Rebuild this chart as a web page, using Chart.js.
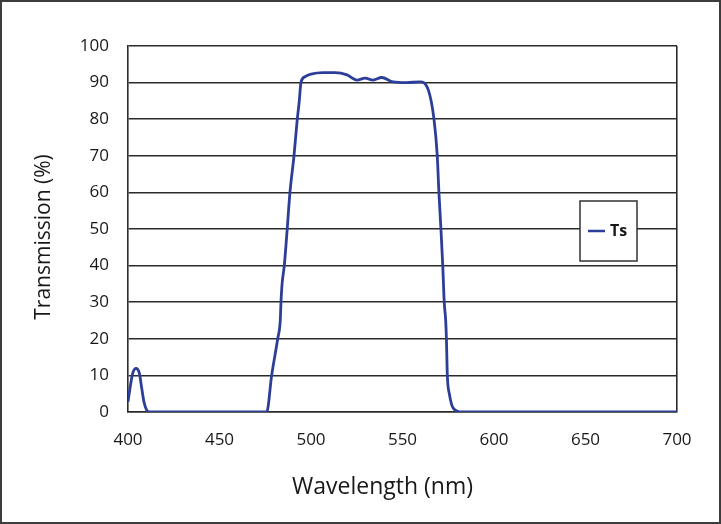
<!DOCTYPE html>
<html>
<head>
<meta charset="utf-8">
<script src="https://cdn.jsdelivr.net/npm/chart.js@4/dist/chart.umd.min.js"></script>
<style>
  html, body { margin: 0; padding: 0; background: #fff; }
  #wrap { width: 721px; height: 524px; position: relative; }
</style>
</head>
<body>
<div id="wrap"><canvas id="chart" width="721" height="524"></canvas></div>
<script>
// Ts transmission curve
const wavelengths = [400, 401.1, 402.6, 404.4, 406.2, 407.5, 408.7, 410.2, 411.6,
  475.8, 478.5, 481.8, 483.2, 483.6, 484.2, 485.4, 487.0, 488.5, 490.7, 491.6, 492.5, 493.6, 494.5, 496.7,
  500, 506.6, 513.1, 519.7, 525.1, 529.5, 533.9, 538.6, 544.8, 552, 559.6, 564.1,
  567.2, 569.0, 569.9, 571.0, 572.0, 572.8, 573.6, 574.0, 574.5, 575.6, 577.8, 582.3, 600, 650, 700];
const transmission = [2.8, 6.5, 10.6, 11.9, 10.6, 6.5, 2.8, 0.5, 0,
  0, 10, 20, 25, 30, 35, 40, 50, 60, 70, 75, 80, 85, 90, 91.6,
  92.3, 92.7, 92.7, 92.1, 90.7, 91.2, 90.7, 91.4, 90.2, 90.0, 90.2, 88,
  80, 70, 60, 50, 40, 30, 25, 20, 10, 5, 1, 0, 0, 0, 0];
const seriesName = 'Ts';
const xTitle = 'Wavelength (nm)';
const yTitle = 'Transmission (%)';

const lineColor = 'rgb(44, 62, 152)';
const gridColor = '#2b2b2b';
const textColor = '#1a1718';
const fontFamily = '"Open Sans", "Noto Sans", sans-serif';

const points = wavelengths.map(function (w, i) { return { x: w, y: transmission[i] }; });

// outer frame, axis titles and the boxed legend
const decor = {
  id: 'decor',
  afterDraw: function (chart) {
    const ctx = chart.ctx;
    const a = chart.chartArea;
    ctx.save();
    ctx.strokeStyle = '#3c3c3c';
    ctx.lineWidth = 2;
    ctx.strokeRect(1, 1, chart.width - 2, chart.height - 2);

    ctx.fillStyle = textColor;
    ctx.textAlign = 'center';
    ctx.textBaseline = 'middle';
    ctx.font = '23px ' + fontFamily;
    ctx.fillText(xTitle, a.left + (a.right - a.left) / 2 - 20, 487);

    ctx.translate(44, (a.top + a.bottom) / 2 + 8);
    ctx.rotate(-Math.PI / 2);
    ctx.font = '21px ' + fontFamily;
    ctx.fillText(yTitle, 0, 0);
    ctx.restore();

    // legend box
    const bx = a.right - 97, by = 201, bw = 57, bh = 60;
    ctx.save();
    ctx.fillStyle = '#fff';
    ctx.fillRect(bx, by, bw, bh);
    ctx.strokeStyle = '#333';
    ctx.lineWidth = 1.5;
    ctx.strokeRect(bx, by, bw, bh);
    ctx.strokeStyle = lineColor;
    ctx.lineWidth = 2.5;
    ctx.beginPath();
    ctx.moveTo(bx + 8, by + bh / 2);
    ctx.lineTo(bx + 25, by + bh / 2);
    ctx.stroke();
    ctx.fillStyle = textColor;
    ctx.font = 'bold 16px ' + fontFamily;
    ctx.textAlign = 'left';
    ctx.textBaseline = 'middle';
    ctx.fillText(seriesName, bx + 30, by + bh / 2);
    ctx.restore();
  }
};

new Chart(document.getElementById('chart'), {
  type: 'line',
  data: {
    datasets: [{
      label: seriesName,
      data: points,
      borderColor: lineColor,
      borderWidth: 2.8,
      pointRadius: 0,
      fill: false,
      cubicInterpolationMode: 'monotone'
    }]
  },
  options: {
    responsive: false,
    animation: false,
    devicePixelRatio: 1,
    layout: { padding: { top: 46, right: 44, left: 0, bottom: 0 } },
    scales: {
      x: {
        type: 'linear',
        min: 400,
        max: 700,
        afterFit: function (s) { s.height = 112; },
        border: { display: true, color: gridColor, width: 1.6 },
        grid: {
          drawTicks: false,
          lineWidth: 1.6,
          color: function (c) { return c.tick && c.tick.value === 700 ? gridColor : 'rgba(0,0,0,0)'; }
        },
        ticks: {
          stepSize: 50,
          padding: 18,
          maxRotation: 0,
          color: textColor,
          font: { family: fontFamily, size: 17 }
        }
      },
      y: {
        min: 0,
        max: 100,
        afterFit: function (s) { s.width = 128; },
        border: { display: true, color: gridColor, width: 1.6 },
        grid: { drawTicks: false, color: gridColor, lineWidth: 1.6 },
        ticks: {
          stepSize: 10,
          padding: 19,
          color: textColor,
          font: { family: fontFamily, size: 17 }
        }
      }
    },
    plugins: {
      legend: { display: false },
      tooltip: { enabled: false }
    }
  },
  plugins: [decor]
});
</script>
</body>
</html>
